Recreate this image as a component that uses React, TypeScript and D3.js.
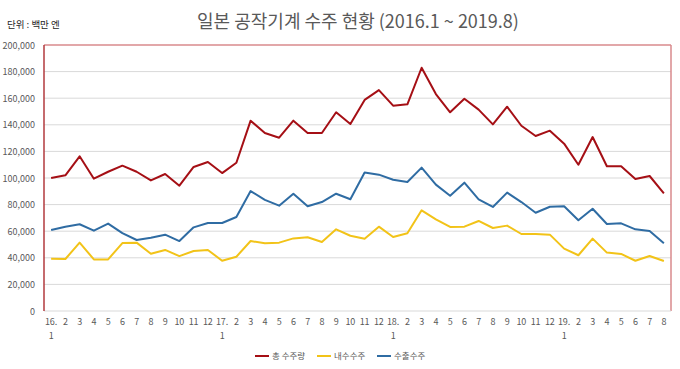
import React, { useEffect, useRef } from 'react';
import * as d3 from 'd3';

// month labels, 2016.1 ~ 2019.8
const months = [
  '16.|1', '2', '3', '4', '5', '6', '7', '8', '9', '10', '11', '12',
  '17.|1', '2', '3', '4', '5', '6', '7', '8', '9', '10', '11', '12',
  '18.|1', '2', '3', '4', '5', '6', '7', '8', '9', '10', '11', '12',
  '19.|1', '2', '3', '4', '5', '6', '7', '8',
];

// 총 수주량
const totalOrders = [
  100000, 102000, 116300, 99500, 104700, 109300, 104700, 98200, 103000, 94200, 108300, 112000,
  103700, 111500, 143100, 133800, 130300, 143100, 133800, 133800, 149400, 140600, 158700, 166100,
  154400, 155400, 182900, 163100, 149400, 159600, 151400, 140300, 153600, 139300, 131600, 135600,
  125800, 110000, 130800, 108800, 108800, 99200, 101500, 88500,
];

// 내수수주
const domesticOrders = [
  39300, 39100, 51400, 38800, 38800, 51100, 51400, 43100, 45900, 41300, 45100, 45900,
  37800, 40800, 52600, 50900, 51400, 54600, 55400, 51900, 61400, 56600, 54400, 63400,
  55600, 58400, 75700, 68900, 63200, 63400, 67700, 62400, 64200, 57900, 57900, 57400,
  46900, 41900, 54400, 43900, 42900, 37800, 41400, 37600,
];

// 수출수주
const exportOrders = [
  60900, 63400, 65200, 60400, 65700, 58600, 53400, 55100, 57400, 52600, 62900, 66200,
  66200, 70700, 90200, 83500, 79200, 88200, 78700, 81900, 88200, 84000, 104200, 102500,
  98700, 97000, 107800, 95000, 86700, 96500, 84000, 78200, 89000, 81900, 73900, 78400,
  78700, 68200, 76900, 65400, 65900, 61400, 60100, 50900,
];

const yTicks = [0, 20000, 40000, 60000, 80000, 100000, 120000, 140000, 160000, 180000, 200000];

const seriesNames = ['총 수주량', '내수수주', '수출수주'];
const seriesColors = ['#a50f15', '#f2c318', '#2f6ca3'];

const WIDTH = 680;
const HEIGHT = 369;
const FONT = "'Noto Sans CJK KR', 'Noto Sans', sans-serif";

function App() {
  const svgRef = useRef<SVGSVGElement>(null);

  useEffect(() => {
    const svg = d3.select(svgRef.current);
    svg.selectAll('*').remove();

    const left = 44;
    const right = 671;
    const top = 45;
    const bottom = 311;

    const x = d3.scaleBand<number>()
      .domain(d3.range(months.length))
      .range([left, right]);
    const y = d3.scaleLinear().domain([0, 200000]).range([bottom, top]);
    const cx = (i: number) => (x(i) as number) + x.bandwidth() / 2;

    // gridlines
    svg.append('g')
      .selectAll('line')
      .data(yTicks.filter((t) => t > 0 && t < 200000))
      .enter()
      .append('line')
      .attr('x1', left)
      .attr('x2', right)
      .attr('y1', (d) => y(d))
      .attr('y2', (d) => y(d))
      .style('stroke', '#d9d9d9')
      .style('stroke-width', 1);

    // plot area frame
    svg.append('line')
      .attr('x1', left).attr('x2', right).attr('y1', top).attr('y2', top)
      .style('stroke', '#d98a8c').style('stroke-width', 1.5);
    svg.append('line')
      .attr('x1', right).attr('x2', right).attr('y1', top).attr('y2', bottom)
      .style('stroke', '#d98a8c').style('stroke-width', 1.5);
    svg.append('line')
      .attr('x1', left).attr('x2', right).attr('y1', bottom).attr('y2', bottom)
      .style('stroke', '#d9d9d9').style('stroke-width', 1);
    svg.append('line')
      .attr('x1', left).attr('x2', left).attr('y1', top).attr('y2', bottom)
      .style('stroke', '#b23a3e').style('stroke-width', 1.5);

    // y labels
    svg.append('g')
      .selectAll('text')
      .data(yTicks)
      .enter()
      .append('text')
      .attr('x', 35)
      .attr('y', (d) => y(d) + 3.5)
      .attr('text-anchor', 'end')
      .style('font-family', FONT)
      .style('font-size', '9px')
      .style('fill', '#595959')
      .text((d) => d3.format(',')(d));

    // x labels
    const xl = svg.append('g')
      .selectAll('text')
      .data(months)
      .enter()
      .append('text')
      .attr('x', (d, i) => cx(i))
      .attr('y', 325)
      .attr('text-anchor', 'middle')
      .style('font-family', FONT)
      .style('font-size', '9px')
      .style('fill', '#595959');
    xl.append('tspan')
      .attr('x', (d, i) => cx(i))
      .text((d) => d.split('|')[0]);
    xl.append('tspan')
      .attr('x', (d, i) => cx(i))
      .attr('dy', 14)
      .text((d) => d.split('|')[1] || '');

    // lines
    const line = d3.line<number>()
      .x((d, i) => cx(i))
      .y((d) => y(d));

    [totalOrders, domesticOrders, exportOrders].forEach((data, k) => {
      svg.append('path')
        .datum(data)
        .attr('d', line)
        .style('fill', 'none')
        .style('stroke', seriesColors[k])
        .style('stroke-width', 2)
        .style('stroke-linejoin', 'round');
    });

    // legend
    const legendX = [255, 317, 377];
    seriesNames.forEach((name, k) => {
      const g = svg.append('g').attr('transform', `translate(${legendX[k]},356)`);
      g.append('line')
        .attr('x1', 0).attr('x2', 14).attr('y1', 0).attr('y2', 0)
        .style('stroke', seriesColors[k]).style('stroke-width', 2);
      g.append('text')
        .attr('x', 17)
        .attr('y', 3)
        .style('font-family', FONT)
        .style('font-size', '8.5px')
        .style('fill', '#595959')
        .text(name);
    });

    // title
    svg.append('text')
      .attr('x', 358)
      .attr('y', 28)
      .attr('text-anchor', 'middle')
      .style('font-family', FONT)
      .style('font-size', '18px')
      .style('fill', '#595959')
      .text('일본 공작기계 수주 현황 (2016.1 ~ 2019.8)');

    svg.append('text')
      .attr('x', 7)
      .attr('y', 28)
      .style('font-family', FONT)
      .style('font-size', '9.5px')
      .style('fill', '#262626')
      .text('단위 : 백만 엔');
  }, []);

  return (
    <svg
      ref={svgRef}
      width={WIDTH}
      height={HEIGHT}
      style={{ position: 'absolute', left: 0, top: 0, background: '#fff' }}
    />
  );
}

export default App;
